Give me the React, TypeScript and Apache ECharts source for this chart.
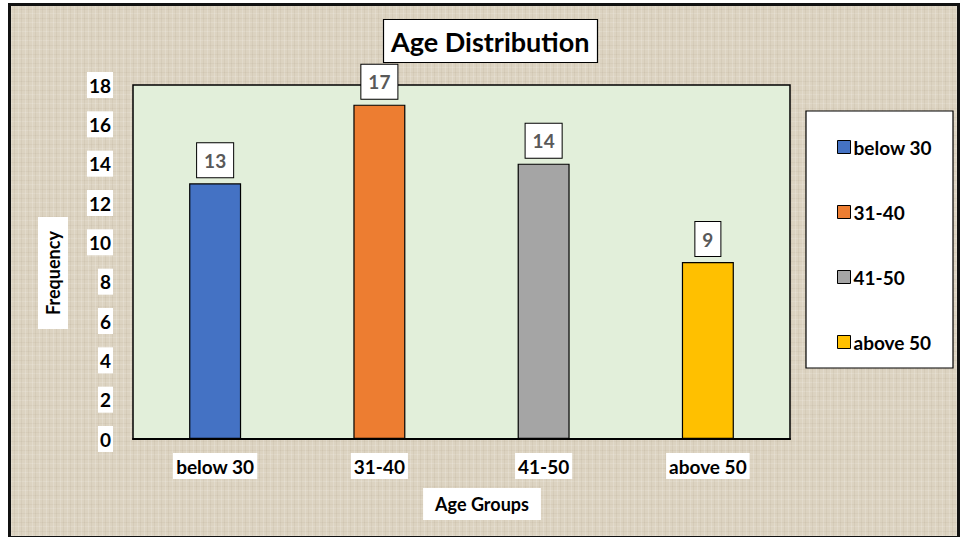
import React, { useEffect, useRef } from "react";
import * as echarts from "echarts";

const categories = ["below 30", "31-40", "41-50", "above 50"];
const values = [13, 17, 14, 9];
const colors = ["#4472C4", "#ED7D31", "#A5A5A5", "#FFC000"];
const yTicks = { min: 0, max: 18, interval: 2 };
const titleText = "Age Distribution";
const xName = "Age Groups";
const yName = "Frequency";

const FONT = "Lato, 'Open Sans', sans-serif";

export default function App() {
  const ref = useRef<HTMLDivElement>(null);
  useEffect(() => {
    if (!ref.current) return;
    const chart = echarts.init(ref.current, undefined, { renderer: "svg" });
    const series = categories.map((name, i) => ({
      name,
      type: "bar",
      stack: "all",
      barWidth: 52,
      data: categories.map((_, j) => (j === i ? values[i] : "-")),
      itemStyle: { color: colors[i], borderColor: "#000", borderWidth: 1.2 },
      label: {
        show: true,
        position: "top",
        distance: 6,
        backgroundColor: "#fff",
        borderColor: "#000",
        borderWidth: 1,
        padding: [6, 7, 6, 7],
        color: "#595959",
        fontWeight: "bold",
        fontSize: 19,
        fontFamily: FONT,
        lineHeight: 22,
      },
    }));
    chart.setOption({
      animation: false,
      backgroundColor: "transparent",
      textStyle: { fontFamily: FONT },
      title: {
        text: titleText,
        left: 383,
        top: 19,
        padding: [7, 8, 7, 8],
        backgroundColor: "#fff",
        borderColor: "#000",
        borderWidth: 1.2,
        textStyle: { fontSize: 27, fontWeight: "bold", color: "#000", fontFamily: FONT, lineHeight: 30 },
      },
      graphic: [
        {
          type: "rect",
          z: 1,
          shape: { x: 806, y: 111, width: 147, height: 257 },
          style: { fill: "#fff", stroke: "#000", lineWidth: 1.2 },
        },
        {
          type: "text",
          z: 5,
          x: 53,
          y: 273,
          rotation: Math.PI / 2,
          style: {
            text: yName,
            align: "center",
            verticalAlign: "middle",
            fill: "#000",
            font: `bold 18px ${FONT}`,
            backgroundColor: "#fff",
            padding: [6, 14, 6, 14],
          },
        },
        {
          type: "text",
          z: 5,
          x: 482,
          y: 504,
          style: {
            text: xName,
            align: "center",
            verticalAlign: "middle",
            fill: "#000",
            font: `bold 18px ${FONT}`,
            backgroundColor: "#fff",
            padding: [7, 12, 7, 12],
          },
        },
      ],
      legend: {
        orient: "vertical",
        left: 832,
        top: 131,
        itemWidth: 13,
        itemHeight: 13,
        itemGap: 43,
        icon: "rect",
        itemStyle: { borderColor: "#000", borderWidth: 1 },
        textStyle: { fontSize: 19, fontWeight: "bold", color: "#000", fontFamily: FONT, padding: [0, 0, 0, -2], lineHeight: 22 },
        data: categories,
      },
      grid: {
        left: 133,
        top: 85,
        width: 657,
        height: 354,
        show: true,
        backgroundColor: "#E2EFDA",
        borderColor: "#000",
        borderWidth: 1.5,
      },
      xAxis: {
        type: "category",
        data: categories,
        axisLine: { lineStyle: { color: "#000", width: 2 } },
        axisTick: { show: false },
        axisLabel: {
          margin: 14,
          backgroundColor: "#fff",
          padding: [2, 3, 2, 3],
          color: "#000",
          fontWeight: "bold",
          fontSize: 19,
          fontFamily: FONT,
          lineHeight: 22,
        },
      },
      yAxis: {
        type: "value",
        min: yTicks.min,
        max: yTicks.max,
        interval: yTicks.interval,
        splitLine: { show: false },
        axisLine: { show: false },
        axisTick: { show: false },
        axisLabel: {
          margin: 20,
          backgroundColor: "#fff",
          padding: [2, 2, 2, 2],
          color: "#000",
          fontWeight: "bold",
          fontSize: 19,
          fontFamily: FONT,
          lineHeight: 22,
        },
      },
      series,
    });
    return () => chart.dispose();
  }, []);

  const texture =
    "repeating-linear-gradient(90deg, rgba(255,255,255,0.16) 0px, rgba(255,255,255,0.16) 1px, transparent 1px, transparent 3px, rgba(120,100,70,0.07) 3px, rgba(120,100,70,0.07) 4px, transparent 4px, transparent 7px)," +
    "repeating-linear-gradient(0deg, rgba(255,255,255,0.13) 0px, rgba(255,255,255,0.13) 1px, transparent 1px, transparent 4px, rgba(120,100,70,0.06) 4px, rgba(120,100,70,0.06) 5px, transparent 5px, transparent 9px)";

  return (
    <div style={{ position: "absolute", left: 0, top: 0, width: 960, height: 537, background: "#fff", overflow: "hidden" }}>
      <div
        style={{
          position: "absolute",
          left: 8,
          top: 3,
          width: 946,
          height: 530,
          border: "3px solid #111",
          backgroundColor: "#DCD3C1",
          backgroundImage: texture,
        }}
      />
      <div ref={ref} style={{ position: "absolute", left: 0, top: 0, width: 960, height: 537 }} />
    </div>
  );
}
